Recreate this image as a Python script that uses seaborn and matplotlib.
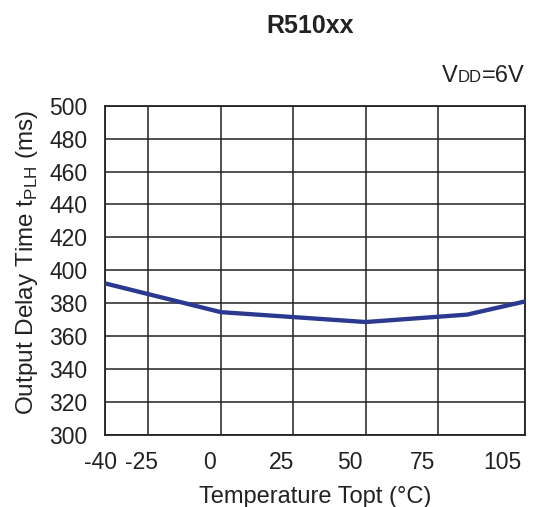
import numpy as np
import pandas as pd
import matplotlib
matplotlib.use("Agg")
import matplotlib.pyplot as plt
import matplotlib.transforms as mtransforms
import seaborn as sns

# data
temps = [-40, 0, 50, 85, 105]
delay = [392, 374.5, 368.5, 373, 381]

x_ticks = [-40, -25, 0, 25, 50, 75, 105]
y_ticks = list(range(300, 501, 20))

df = pd.DataFrame({"temp": temps, "delay": delay})

sns.set_style("white")
plt.rcParams['font.family'] = ['Liberation Sans', 'DejaVu Sans']
ink = "#222222"

fig = plt.figure(figsize=(5.45, 5.07), dpi=100)
ax = fig.add_axes([0.1927, 0.1426, 0.7706, 0.6489])

sns.lineplot(data=df, x="temp", y="delay", ax=ax, color="#2b3990",
             linewidth=3.1, zorder=3)

ax.set_xlim(-40, 105)
ax.set_ylim(300, 500)
ax.set_xticks(x_ticks)
ax.set_yticks(y_ticks)
ax.set_xticklabels([str(t) for t in x_ticks], fontsize=16.5, color=ink)
ax.set_yticklabels([str(t) for t in y_ticks], fontsize=16.5, color=ink)
ax.tick_params(axis="x", length=0, pad=11.5)
ax.tick_params(axis="y", length=0, pad=12.5)
ax.grid(True, color=ink, linewidth=1.1)
for s in ax.spines.values():
    s.set_visible(True)
    s.set_color(ink)
    s.set_linewidth(1.3)

# the reference's x labels sit a bit left of their ticks
shift_px = [-5, -7, -11, -12, -16, -16, -23]
for lab, dx in zip(ax.get_xticklabels(), shift_px):
    lab.set_transform(lab.get_transform() +
                      mtransforms.ScaledTranslation(dx / 100, 0, fig.dpi_scale_trans))

ax.set_xlabel("Temperature Topt (°C)", fontsize=17, color=ink)
ax.xaxis.set_label_coords(0.5, -0.155)
ax.set_ylabel(r"Output Delay Time t$_{\mathregular{PLH}}$ (ms)", fontsize=17.5,
              color=ink)
ax.yaxis.set_label_coords(-0.155, 0.523)

fig.text(0.569, 0.949, "R510xx", fontsize=18, fontweight="bold",
         ha="center", va="center", color=ink)

# VDD=6V with small DD
fig.canvas.draw()
r = fig.canvas.get_renderer()
base_y = 0.838
t3 = fig.text(0.962, base_y, "=6V", fontsize=17, ha="right", va="baseline", color=ink)
w3 = t3.get_window_extent(r).width / fig.bbox.width
t2 = fig.text(0.962 - w3, base_y, "DD", fontsize=12, ha="right", va="baseline", color=ink)
w2 = t2.get_window_extent(r).width / fig.bbox.width
fig.text(0.962 - w3 - w2, base_y, "V", fontsize=17, ha="right", va="baseline", color=ink)

fig.savefig("out.png", dpi=100)
